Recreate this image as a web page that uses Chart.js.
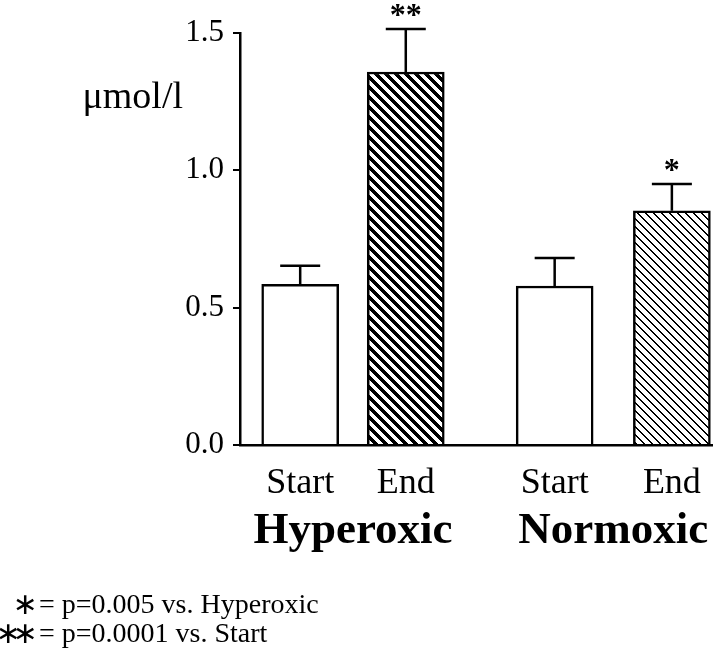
<!DOCTYPE html>
<html>
<head>
<meta charset="utf-8">
<script src="https://cdn.jsdelivr.net/npm/chart.js@4/dist/chart.umd.min.js"></script>
<style>
  html, body { margin: 0; padding: 0; background: #fff; }
  #wrap { width: 714px; height: 654px; position: relative; }
</style>
</head>
<body>
<div id="wrap"><canvas id="chart" width="714" height="654"></canvas></div>
<script>
// --- data ---
const groups = ['Hyperoxic', 'Normoxic'];
const conditions = ['Start', 'End', 'Start', 'End'];
const barPos = [1, 2, 3.41, 4.52];          // positions along the x axis (data units)
const means = [0.585, 1.358, 0.579, 0.853];  // µmol/l
const sem = [0.068, 0.157, 0.102, 0.097];
const marks = ['', '**', '', '*'];
const yTicks = [0, 0.5, 1.0, 1.5];
const footStars = [1, 2];
const footTexts = ['= p=0.005 vs. Hyperoxic', '= p=0.0001 vs. Start'];

const SERIF = '"Liberation Serif", "Times New Roman", serif';

// crisp "\" hatching built pixel by pixel
function stripes(size, width) {
  const c = document.createElement('canvas');
  c.width = c.height = size;
  const g = c.getContext('2d');
  const img = g.createImageData(size, size);
  for (let y = 0; y < size; y++) {
    for (let x = 0; x < size; x++) {
      const d = ((x - y) % size + size) % size;
      const v = d < width ? 0 : 255;
      const k = (y * size + x) * 4;
      img.data[k] = img.data[k + 1] = img.data[k + 2] = v;
      img.data[k + 3] = 255;
    }
  }
  g.putImageData(img, 0, 0);
  return g.createPattern(c, 'repeat');
}

const ctx = document.getElementById('chart').getContext('2d');
const fills = ['#fff', stripes(10, 5), '#fff', stripes(8, 2)];

const errorBars = {
  id: 'errorBars',
  afterDatasetsDraw(chart) {
    const c = chart.ctx;
    const y = chart.scales.y;
    const bars = chart.getDatasetMeta(0).data;
    c.save();
    c.strokeStyle = '#000';
    c.fillStyle = '#000';
    c.lineWidth = 2.5;
    bars.forEach((bar, i) => {
      const top = y.getPixelForValue(means[i] + sem[i]);
      c.beginPath();
      c.moveTo(bar.x, bar.y);
      c.lineTo(bar.x, top);
      c.moveTo(bar.x - 20, top);
      c.lineTo(bar.x + 20, top);
      c.stroke();
      if (marks[i]) {
        c.font = 'bold 32px ' + SERIF;
        c.textAlign = 'center';
        c.textBaseline = 'alphabetic';
        c.fillText(marks[i], bar.x, top - 4);
      }
    });
    c.restore();
  }
};

const textLabels = {
  id: 'textLabels',
  afterDraw(chart) {
    const c = chart.ctx;
    const x = chart.scales.x;
    c.save();
    c.fillStyle = '#000';
    c.textBaseline = 'alphabetic';
    c.textAlign = 'center';

    c.font = '36px ' + SERIF;
    const px = barPos.map(v => x.getPixelForValue(v));
    conditions.forEach((t, i) => c.fillText(t, px[i], 493));

    c.font = 'bold 45px ' + SERIF;
    groups.forEach((g, i) => c.fillText(g, (px[2 * i] + px[2 * i + 1]) / 2, 543));

    c.textAlign = 'right';
    c.font = '38px ' + SERIF;
    c.fillText('\u03bcmol/l', 183, 108);

    footTexts.forEach((t, i) => {
      const base = 613 + i * 29;
      c.textAlign = 'center';
      c.textBaseline = 'middle';
      c.font = '30px "DejaVu Sans", sans-serif';
      for (let s = 0; s < footStars[i]; s++) {
        c.fillText('\u2217', 25 - (footStars[i] - 1 - s) * 17, base - 7);
      }
      c.textAlign = 'left';
      c.textBaseline = 'alphabetic';
      c.font = '28px ' + SERIF;
      c.fillText(t, 39, base);
    });
    c.restore();
  }
};

new Chart(ctx, {
  type: 'bar',
  data: {
    datasets: [{
      data: barPos.map((p, i) => ({ x: p, y: means[i] })),
      backgroundColor: fills,
      borderColor: '#000',
      borderWidth: 2.5,
      barThickness: 77
    }]
  },
  options: {
    responsive: false,
    animation: false,
    events: [],
    layout: { padding: { top: 33, right: 2, left: 0, bottom: 0 } },
    plugins: { legend: { display: false }, tooltip: { enabled: false } },
    scales: {
      x: {
        type: 'linear',
        offset: false,
        min: 0.43,
        max: 4.9,
        grid: { display: false },
        ticks: { display: false },
        border: { color: '#000', width: 2.5 },
        afterFit(scale) { scale.height = 209; }
      },
      y: {
        min: yTicks[0],
        max: yTicks[yTicks.length - 1],
        afterBuildTicks(scale) { scale.ticks = yTicks.map(v => ({ value: v })); },
        grid: { drawOnChartArea: false, drawTicks: true, tickLength: 7, color: '#000', lineWidth: 2 },
        border: { color: '#000', width: 2.5 },
        ticks: {
          color: '#000',
          padding: 9,
          font: { family: SERIF, size: 31 },
          callback: v => v.toFixed(1)
        },
        afterFit(scale) { scale.width = 240; }
      }
    }
  },
  plugins: [errorBars, textLabels]
});
</script>
</body>
</html>
